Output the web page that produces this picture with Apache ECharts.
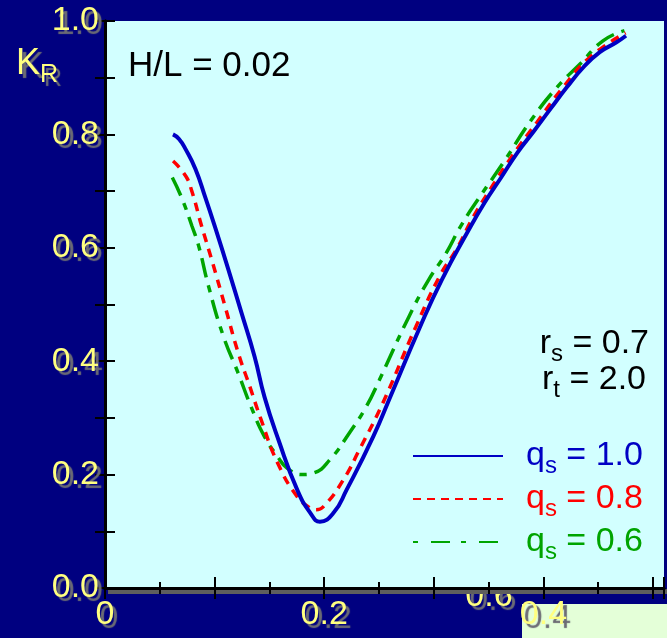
<!DOCTYPE html>
<html>
<head>
<meta charset="utf-8">
<script src="https://cdn.jsdelivr.net/npm/echarts@6/dist/echarts.min.js"></script>
<style>
html, body { margin: 0; padding: 0; background: #000080; }
#chart { width: 667px; height: 638px; }
</style>
</head>
<body>
<div id="chart"></div>
<script>
// K_R against x, H/L = 0.02, three qs values
const qsLabels = ['1.0', '0.8', '0.6']
const xLabelValues = [0, 0.2, 0.4]
const yLabelValues = [0, 0.2, 0.4, 0.6, 0.8, 1.0]

const blueX = [0.062, 0.0675, 0.0735, 0.0825, 0.0915, 0.1005, 0.1125, 0.1244, 0.1365, 0.1455, 0.1583, 0.1754, 0.1871, 0.1961, 0.2087, 0.2204, 0.2447, 0.2609, 0.2864, 0.3074, 0.3314, 0.3464, 0.3614, 0.3763, 0.3914, 0.4064, 0.4213, 0.4363, 0.4514, 0.4663, 0.4753]
const blueY = [0.800, 0.792, 0.774, 0.739, 0.689, 0.636, 0.562, 0.486, 0.408, 0.337, 0.261, 0.173, 0.133, 0.117, 0.133, 0.173, 0.267, 0.340, 0.456, 0.544, 0.630, 0.680, 0.724, 0.768, 0.806, 0.845, 0.883, 0.918, 0.945, 0.962, 0.974]

const redX = [0.0621, 0.0735, 0.0792, 0.0882, 0.0972, 0.1095, 0.1215, 0.1320, 0.1424, 0.1574, 0.1754, 0.1871, 0.1916, 0.1995, 0.2175, 0.2321, 0.2534, 0.2834, 0.3059, 0.3209, 0.3359, 0.3524, 0.3704, 0.3943, 0.4184, 0.4424, 0.4750]
const redY = [0.753, 0.727, 0.700, 0.638, 0.580, 0.497, 0.415, 0.356, 0.297, 0.221, 0.161, 0.141, 0.138, 0.144, 0.191, 0.244, 0.326, 0.460, 0.552, 0.598, 0.654, 0.706, 0.759, 0.822, 0.884, 0.936, 0.979]

const greenX = [0.0614, 0.0704, 0.0794, 0.0855, 0.0945, 0.1080, 0.1215, 0.1332, 0.1455, 0.1574, 0.1664, 0.1799, 0.1905, 0.2051, 0.2231, 0.2384, 0.2501, 0.2774, 0.2954, 0.3104, 0.3254, 0.3434, 0.3644, 0.3884, 0.4123, 0.4334, 0.4543, 0.4739]
const greenY = [0.724, 0.686, 0.638, 0.603, 0.532, 0.444, 0.379, 0.320, 0.267, 0.232, 0.211, 0.200, 0.203, 0.226, 0.274, 0.320, 0.366, 0.479, 0.544, 0.588, 0.641, 0.694, 0.753, 0.824, 0.883, 0.924, 0.965, 0.983]

const colors = ['#0000c4', '#ff0000', '#00a400']
const font = 'Liberation Sans, Arial, sans-serif'
const yellow = '#ffff80'
const shadow = '#6c6c74'

const zip = (xs, ys) => xs.map((x, i) => [x, ys[i]])
const near = (v, list) => list.some(t => Math.abs(t - v) < 1e-6)

const lineTypes = [
  { type: 'solid', width: 4 },
  { type: [9, 7], width: 3.5 },
  { type: [20, 8, 7, 8], width: 3.5 }
]
const legendTypes = ['solid', [8, 6], [5, 13, 19, 11]]
const names = qsLabels.map(v => 'qs = ' + v)

const tickLine = { show: true, inside: true, length: 11, lineStyle: { color: '#000', width: 2 } }
const frameLine = { show: true, lineStyle: { color: '#000', width: 3 } }
const labelShadow = { textShadowColor: shadow, textShadowBlur: 1, textShadowOffsetX: 4, textShadowOffsetY: 4 }

const option = {
  backgroundColor: '#000080',
  animation: false,
  textStyle: { fontFamily: font },
  grid: {
    left: 105,
    top: 21,
    right: -5,
    bottom: 50,
    show: true,
    backgroundColor: '#d2ffff',
    borderWidth: 0
  },
  xAxis: [
    {
      type: 'value',
      min: 0,
      max: 0.51,
      interval: 0.1,
      axisLine: frameLine,
      axisTick: tickLine,
      minorTick: { show: true, splitNumber: 2, length: 6, lineStyle: { color: '#000', width: 2 } },
      splitLine: { show: false },
      axisLabel: {
        margin: 10,
        fontSize: 34,
        fontFamily: font,
        color: yellow,
        ...labelShadow,
        formatter: v => (near(v, xLabelValues) ? (v === 0 ? '0' : v.toFixed(1)) : '')
      }
    },
    {
      type: 'value',
      position: 'top',
      min: 0,
      max: 0.51,
      interval: 0.1,
      axisLine: frameLine,
      axisTick: tickLine,
      minorTick: { show: true, splitNumber: 2, length: 6, lineStyle: { color: '#000', width: 2 } },
      splitLine: { show: false },
      axisLabel: { show: false }
    }
  ],
  yAxis: [
    {
      type: 'value',
      min: 0,
      max: 1,
      interval: 0.1,
      axisLine: frameLine,
      axisTick: { show: true, inside: true, length: 10, lineStyle: { color: '#000', width: 2 } },
      splitLine: { show: false },
      axisLabel: {
        margin: 6,
        fontSize: 34,
        fontFamily: font,
        color: yellow,
        ...labelShadow,
        formatter: v => (near(v, yLabelValues) ? v.toFixed(1) : '')
      }
    },
    {
      type: 'value',
      position: 'right',
      min: 0,
      max: 1,
      interval: 0.1,
      axisLine: frameLine,
      axisTick: { show: true, inside: true, length: 10, lineStyle: { color: '#000', width: 2 } },
      splitLine: { show: false },
      axisLabel: { show: false }
    }
  ],
  legend: {
    orient: 'vertical',
    left: 412,
    top: 439,
    padding: 0,
    itemGap: 4,
    itemWidth: 90,
    itemHeight: 14,
    selectedMode: false,
    itemStyle: { opacity: 0 },
    lineStyle: { width: 2 },
    formatter: name => '{gap|}{q|q}{s|s}{q| = ' + name.split('= ')[1] + '}',
    textStyle: {
      fontFamily: font,
      rich: {
        gap: { width: 18 },
        q: { fontSize: 34, fontFamily: font },
        s: { fontSize: 24, fontFamily: font, padding: [20, 0, 0, 0] }
      }
    },
    data: names.map((n, i) => ({
      name: n,
      textStyle: { color: colors[i] },
      lineStyle: { type: legendTypes[i], width: 2, color: colors[i] }
    }))
  },
  graphic: [
    // grey drop shadow under the bottom frame
    {
      type: 'rect',
      z: -1,
      shape: { x: 108, y: 589, width: 570, height: 5 },
      style: { fill: '#5e5e5e' }
    },
    {
      type: 'rect',
      z: -1,
      shape: { x: 522, y: 604, width: 150, height: 40 },
      style: { fill: '#e4ffd8' }
    },
    {
      type: 'text',
      z: -5,
      x: 489,
      y: 580,
      style: {
        text: '0.6', font: '34px ' + font, fill: yellow, align: 'center',
        textShadowColor: shadow, textShadowBlur: 1, textShadowOffsetX: 4, textShadowOffsetY: 4
      }
    },
    {
      type: 'text',
      x: 16,
      y: 64,
      style: {
        text: '{k|K}{r|R}',
        fill: yellow,
        verticalAlign: 'middle',
        textShadowColor: shadow,
        textShadowBlur: 1,
        textShadowOffsetX: 4,
        textShadowOffsetY: 4,
        rich: {
          k: { fontSize: 36, fontFamily: font },
          r: { fontSize: 25, fontFamily: font, padding: [22, 0, 0, 0] }
        }
      }
    },
    {
      type: 'text',
      x: 128,
      y: 66,
      style: { text: 'H/L = 0.02', font: '35px ' + font, fill: '#000', verticalAlign: 'middle' }
    },
    {
      type: 'text',
      x: 649,
      y: 344,
      style: {
        text: '{b|r}{s|s}{b| = 0.7}',
        fill: '#000',
        align: 'right',
        verticalAlign: 'middle',
        rich: {
          b: { fontSize: 34, fontFamily: font },
          s: { fontSize: 24, fontFamily: font, padding: [20, 0, 0, 0] }
        }
      }
    },
    {
      type: 'text',
      x: 646,
      y: 380,
      style: {
        text: '{b|r}{s|t}{b| = 2.0}',
        fill: '#000',
        align: 'right',
        verticalAlign: 'middle',
        rich: {
          b: { fontSize: 34, fontFamily: font },
          s: { fontSize: 24, fontFamily: font, padding: [20, 0, 0, 0] }
        }
      }
    }
  ],
  series: [
    { name: names[0], data: zip(blueX, blueY) },
    { name: names[1], data: zip(redX, redY) },
    { name: names[2], data: zip(greenX, greenY) }
  ].map((s, i) => ({
    ...s,
    type: 'line',
    smooth: 0.5,
    symbol: 'none',
    z: 10 - i,
    lineStyle: { color: colors[i], width: lineTypes[i].width, type: lineTypes[i].type },
    itemStyle: { color: colors[i] }
  }))
}

const chart = echarts.init(document.getElementById('chart'))
chart.setOption(option)
</script>
</body>
</html>
